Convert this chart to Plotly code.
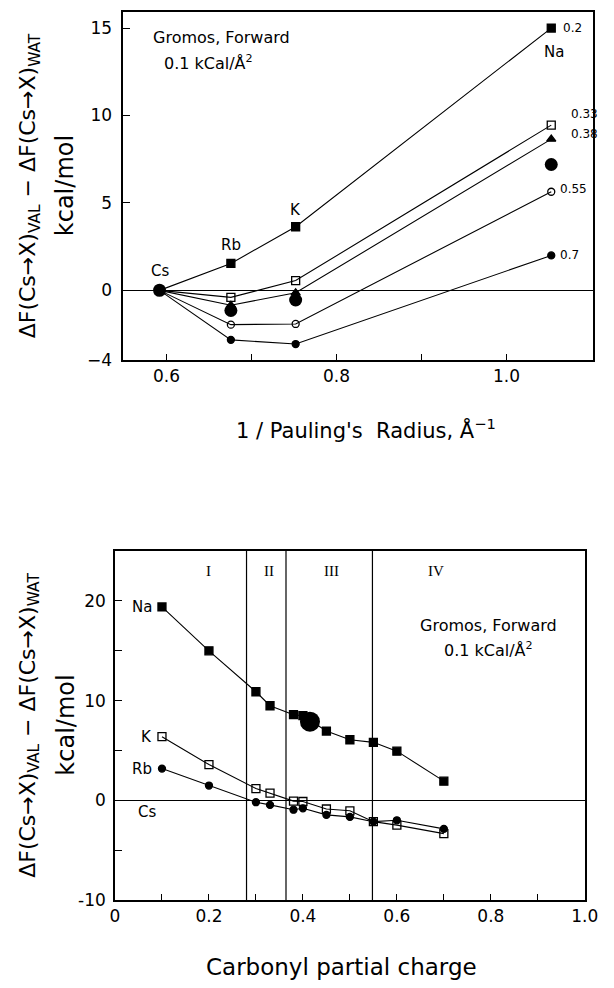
import plotly.graph_objects as go

# ---------------- data: upper panel (free energy vs 1/Pauling radius) ----------------
ions = ["Cs", "Rb", "K", "Na"]
pauling_radius = [1.69, 1.48, 1.33, 0.95]          # Angstrom
inv_radius = [1.0 / r for r in pauling_radius]

charge_labels = ["0.2", "0.33", "0.38", "0.55", "0.7"]
dF_q020 = [0.0, 1.54, 3.64, 15.0]
dF_q033 = [0.0, -0.40, 0.56, 9.45]
dF_q038 = [0.0, -0.85, -0.14, 8.65]
dF_q055 = [0.0, -1.96, -1.92, 5.64]
dF_q070 = [0.0, -2.83, -3.07, 2.0]
dF_big = [0.0, -1.15, -0.55, 7.2]

# ---------------- data: lower panel (free energy vs carbonyl partial charge) ----------------
carbonyl_charge = [0.1, 0.2, 0.3, 0.33, 0.38, 0.4, 0.45, 0.5, 0.55, 0.6, 0.7]
dF_Na = [19.4, 15.0, 10.9, 9.5, 8.6, 8.5, 6.96, 6.09, 5.83, 4.95, 1.94]
dF_K = [6.4, 3.6, 1.2, 0.75, -0.06, -0.1, -0.85, -1.03, -2.12, -2.47, -3.32]
dF_Rb = [3.2, 1.5, -0.17, -0.44, -0.92, -0.78, -1.44, -1.64, -2.12, -1.98, -2.84]
big_charge = [0.415]
big_dF = [7.9]
region_bounds = [0.28, 0.364, 0.548]
region_names = ["I", "II", "III", "IV"]
region_label_x = [0.2, 0.327, 0.46, 0.683]

top_xticks = [0.6, 0.7, 0.8, 0.9, 1.0]
top_xticktext = ["0.6", "", "0.8", "", "1.0"]
top_yticks = [-4, 0, 5, 10, 15]
bot_xticks = [0.0, 0.1, 0.2, 0.3, 0.4, 0.5, 0.6, 0.7, 0.8, 0.9, 1.0]
bot_xticktext = ["0", "", "0.2", "", "0.4", "", "0.6", "", "0.8", "", "1.0"]
bot_yticks = [-10, -5, 0, 5, 10, 15, 20]
bot_yticktext = ["-10", "", "0", "", "10", "", "20"]

W, H = 614, 988
FONT = "DejaVu Sans"
INK = "black"


def px(xp):
    return xp / W


def py(yp):
    return 1 - yp / H


fig = go.Figure()

# upper panel series
top_series = [
    (dF_q020, "square", 8),
    (dF_q033, "square-open", 8),
    (dF_q038, "triangle-up", 8),
    (dF_q055, "circle-open", 7),
    (dF_q070, "circle", 7),
]
for vals, sym, size in top_series:
    fig.add_trace(go.Scatter(
        x=inv_radius, y=vals, mode="lines+markers", xaxis="x", yaxis="y",
        line=dict(color=INK, width=1.1),
        marker=dict(symbol=sym, size=size, color=INK, line=dict(color=INK, width=1.3)),
        showlegend=False))
fig.add_trace(go.Scatter(
    x=inv_radius, y=dF_big, mode="markers", xaxis="x", yaxis="y",
    marker=dict(symbol="circle", size=13, color=INK), showlegend=False))

# lower panel series
bot_series = [
    (dF_Na, "square", 8),
    (dF_K, "square-open", 8),
    (dF_Rb, "circle", 7),
]
for vals, sym, size in bot_series:
    fig.add_trace(go.Scatter(
        x=carbonyl_charge, y=vals, mode="lines+markers", xaxis="x2", yaxis="y2",
        line=dict(color=INK, width=1.1),
        marker=dict(symbol=sym, size=size, color=INK, line=dict(color=INK, width=1.3)),
        showlegend=False))
fig.add_trace(go.Scatter(
    x=big_charge, y=big_dF, mode="markers", xaxis="x2", yaxis="y2",
    marker=dict(symbol="circle", size=20, color=INK), showlegend=False))

axis_common = dict(
    showline=True, linecolor=INK, linewidth=1.5, mirror=True,
    ticks="inside", ticklen=7, tickwidth=1.2, tickcolor=INK,
    showgrid=False, tickfont=dict(family=FONT, size=17, color=INK),
)

fig.update_layout(
    width=W, height=H,
    margin=dict(l=0, r=0, t=0, b=0),
    paper_bgcolor="white", plot_bgcolor="white",
    xaxis=dict(domain=[px(122), px(607)], range=[0.549, 1.102],
               tickmode="array", tickvals=top_xticks, ticktext=top_xticktext,
               zeroline=False, anchor="y", **axis_common),
    yaxis=dict(domain=[py(364), py(12.5)], range=[-4, 15.9],
               tickmode="array", tickvals=top_yticks,
               zeroline=True, zerolinecolor=INK, zerolinewidth=1.2,
               ticklabelstandoff=6, anchor="x", **axis_common),
    xaxis2=dict(domain=[px(113.5), px(598.3)], range=[0, 1.0],
                tickmode="array", tickvals=bot_xticks, ticktext=bot_xticktext,
                zeroline=False, anchor="y2", **axis_common),
    yaxis2=dict(domain=[py(909.5), py(556.7)], range=[-10, 25],
                tickmode="array", tickvals=bot_yticks, ticktext=bot_yticktext,
                zeroline=True, zerolinecolor=INK, zerolinewidth=1.2,
                ticklabelstandoff=4, anchor="x2", **axis_common),
)

# region boundaries in the lower panel
for xb in region_bounds:
    fig.add_shape(type="line", xref="x2", yref="y2 domain", x0=xb, x1=xb, y0=0, y1=1,
                  line=dict(color=INK, width=1.2))

ann = []
ytitle_1 = "ΔF(Cs→X)<sub>VAL</sub> − ΔF(Cs→X)<sub>WAT</sub>"
for cy in (188, 733):
    ann.append(dict(text=ytitle_1, xref="paper", yref="paper", x=px(25), y=py(cy),
                    textangle=-90, showarrow=False, xanchor="center", yanchor="middle",
                    font=dict(family=FONT, size=22, color=INK)))
    ann.append(dict(text="kcal/mol", xref="paper", yref="paper", x=px(62), y=py(cy),
                    textangle=-90, showarrow=False, xanchor="center", yanchor="middle",
                    font=dict(family=FONT, size=24, color=INK)))

ann.append(dict(text="1 / Pauling's  Radius, Å<sup>−1</sup>", xref="paper", yref="paper",
                x=px(373), y=py(433), showarrow=False, xanchor="center", yanchor="middle",
                font=dict(family=FONT, size=21, color=INK)))
ann.append(dict(text="Carbonyl partial charge", xref="paper", yref="paper",
                x=px(347), y=py(977), showarrow=False, xanchor="center", yanchor="middle",
                font=dict(family=FONT, size=23, color=INK)))

# run description, upper panel
ann.append(dict(text="Gromos, Forward", xref="paper", yref="paper", x=px(151), y=py(38),
                showarrow=False, xanchor="left", yanchor="middle",
                font=dict(family=FONT, size=16, color=INK)))
ann.append(dict(text="0.1 kCal/Å<sup>2</sup>", xref="paper", yref="paper", x=px(162), y=py(63),
                showarrow=False, xanchor="left", yanchor="middle",
                font=dict(family=FONT, size=16, color=INK)))
# run description, lower panel
ann.append(dict(text="Gromos, Forward", xref="paper", yref="paper", x=px(499), y=py(632),
                showarrow=False, xanchor="center", yanchor="middle",
                font=dict(family=FONT, size=16, color=INK)))
ann.append(dict(text="0.1 kCal/Å<sup>2</sup>", xref="paper", yref="paper", x=px(499), y=py(656),
                showarrow=False, xanchor="center", yanchor="middle",
                font=dict(family=FONT, size=16, color=INK)))

# ion labels, upper panel
ion_lbl = dict(xref="x", yref="y", showarrow=False, font=dict(family=FONT, size=15, color=INK))
ann.append(dict(text=ions[0], x=inv_radius[0], y=dF_q020[0], yshift=19, **ion_lbl))
ann.append(dict(text=ions[1], x=inv_radius[1], y=dF_q020[1], yshift=18, **ion_lbl))
ann.append(dict(text=ions[2], x=inv_radius[2], y=dF_q020[2], yshift=17, **ion_lbl))
ann.append(dict(text=ions[3], x=inv_radius[3], y=dF_q020[3], yshift=-24, xshift=3, **ion_lbl))

# charge labels at the Na end of each line
lbl_font = dict(family=FONT, size=12, color=INK)
ends = [dF_q020[3], dF_q033[3], dF_q038[3], dF_q055[3], dF_q070[3]]
shifts = [(10, 0), (18, 11), (18, 5), (7, 3), (7, 0)]
for txt, yv, (dx, dy) in zip(charge_labels, ends, shifts):
    ann.append(dict(text=txt, x=inv_radius[3], y=yv, xref="x", yref="y", xshift=dx, yshift=dy,
                    xanchor="left", yanchor="middle", showarrow=False, font=lbl_font))

# ion labels, lower panel
lo_lbl = dict(xref="x2", yref="y2", showarrow=False, xanchor="right", yanchor="middle",
              font=dict(family=FONT, size=15, color=INK))
ann.append(dict(text="Na", x=carbonyl_charge[0], y=dF_Na[0], xshift=-8, **lo_lbl))
ann.append(dict(text="K", x=carbonyl_charge[0], y=dF_K[0], xshift=-8, **lo_lbl))
ann.append(dict(text="Rb", x=carbonyl_charge[0], y=dF_Rb[0], xshift=-8, **lo_lbl))
ann.append(dict(text="Cs", x=carbonyl_charge[0], y=0, xshift=-4, yshift=-11, **lo_lbl))

# region numerals
for name, xr in zip(region_names, region_label_x):
    ann.append(dict(text=name, x=xr, y=py(577), xref="x2", yref="paper", showarrow=False,
                    xanchor="center", yanchor="middle",
                    font=dict(family="Liberation Serif", size=15, color=INK)))

fig.update_layout(annotations=ann)
fig.write_html("out.html")
